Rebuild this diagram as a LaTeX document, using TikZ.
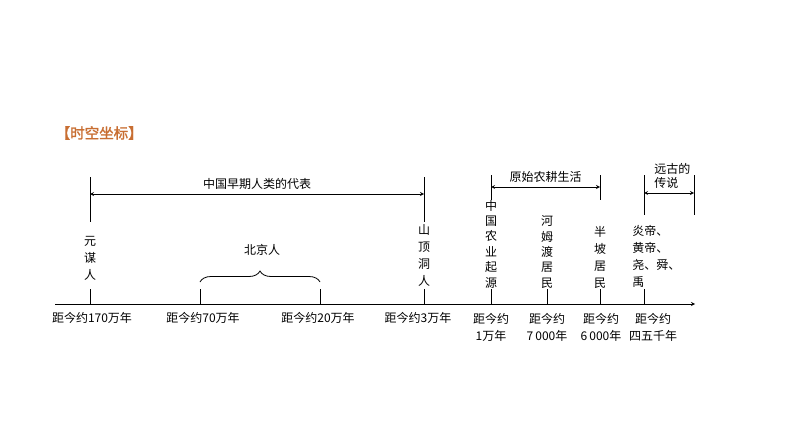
\documentclass[tikz,border=0pt]{standalone}
\usepackage{fontspec}
\setmainfont{Noto Sans CJK SC}
\newfontfamily\titlefont[FakeBold=1.5]{Noto Sans CJK SC}
\usetikzlibrary{decorations.pathreplacing}
\definecolor{titlebrown}{RGB}{200,110,50}
\begin{document}
\begin{tikzpicture}[>=stealth, x=1pt, y=-1pt, line width=0.8pt,
  lbl/.style={font=\fontsize{12}{17}\selectfont, inner sep=0pt},
  vlbl/.style={lbl, align=center, text width=13pt},
  vtight/.style={vlbl, font=\fontsize{12}{15.4}\selectfont}]
  \useasboundingbox (0,0) rectangle (794,447);

  \node[anchor=west, text=titlebrown, font=\fontsize{14.5}{16}\titlefont] (title) at (52,133) {【时空坐标】};

  % time axis
  \coordinate (axisL) at (55,304);
  \coordinate (axisR) at (695,304);
  \draw[->] (axisL) -- (axisR);

  % points on the axis
  \foreach \name/\x in {yuanmou/90,bjA/200,bjB/320,shanding/424,nongye/491,hemudu/547,banpo/600,yandi/644} {
    \coordinate (\name) at (\x,304);
    \draw (\name) -- ++(0,-15);
  }

  % upper marks
  \coordinate (ymTop) at (90,177);
  \coordinate (sdTop) at (424,177);
  \draw (ymTop) -- ++(0,45);
  \draw (sdTop) -- ++(0,45);
  \coordinate (nyTop) at (491,175);
  \coordinate (bpTop) at (600,175);
  \draw (nyTop) -- ++(0,25);
  \draw (bpTop) -- ++(0,25);
  \coordinate (ydTop) at (644,175);
  \coordinate (cqTop) at (694,175);
  \draw (ydTop) -- ++(0,40);
  \draw (cqTop) -- ++(0,40);

  \draw[<->] ([yshift=-17]ymTop) -- ([yshift=-17]sdTop) node[lbl, midway, above=4pt] (early) {中国早期人类的代表};
  \draw[<->] ([yshift=-12]nyTop) -- ([yshift=-12]bpTop) node[lbl, midway, above=4pt] (farming) {原始农耕生活};
  \draw[<->] ([yshift=-18]ydTop) -- ([yshift=-18]cqTop);
  \node[lbl, anchor=west, align=left, font=\fontsize{12}{14}\selectfont] (legend) at (654,176) {远古的\\传说};

  % Peking man
  \coordinate (braceL) at (200,282);
  \coordinate (braceR) at (320,282);
  \draw[decorate, decoration={brace, amplitude=11pt}] (braceL) -- (braceR);
  \node[lbl] (beijing) at (262,250) {北京人};

  % names
  \node[vlbl] (ymName) at (90,258) {元\\谋\\人};
  \node[vlbl] (sdName) at (424,255) {山\\顶\\洞\\人};
  \node[vtight] (nyName) at (491,244) {中\\国\\农\\业\\起\\源};
  \node[vtight] (hmName) at (547,252) {河\\姆\\渡\\居\\民};
  \node[vlbl] (bpName) at (600,257) {半\\坡\\居\\民};
  \node[lbl, anchor=west, align=left] (ydName) at (632,256) {炎帝、\\黄帝、\\尧、舜、\\禹};

  % dates
  \node[lbl] (d1) at (92,318) {距今约170万年};
  \node[lbl] (d2) at (203,318) {距今约70万年};
  \node[lbl] (d3) at (318,318) {距今约20万年};
  \node[lbl] (d4) at (418,318) {距今约3万年};
  \node[lbl, align=center] (d5) at (491,327) {距今约\\1万年};
  \node[lbl, align=center] (d6) at (547,327) {距今约\\7\,000年};
  \node[lbl, align=center] (d7) at (601,327) {距今约\\6\,000年};
  \node[lbl, align=center] (d8) at (653,327) {距今约\\四五千年};
\end{tikzpicture}
\end{document}
